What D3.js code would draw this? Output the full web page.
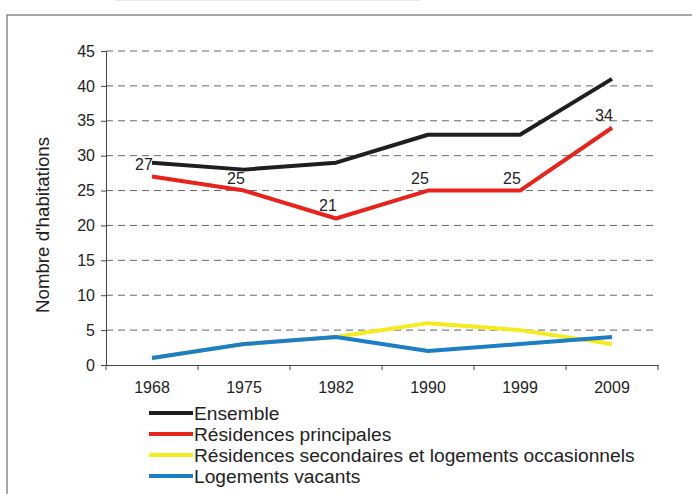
<!DOCTYPE html>
<html><head><meta charset="utf-8">
<script src="https://cdn.jsdelivr.net/npm/d3@7"></script>
<style>body{margin:0;background:#fff}svg{display:block}text{font-family:"Liberation Sans",Arial,sans-serif;fill:#222}</style>
</head><body>
<script>
const years = ["1968","1975","1982","1990","1999","2009"];
const ensemble = [29,28,29,33,33,41];
const principales = [27,25,21,25,25,34];
const secondaires = [1,3,4,6,5,3];
const vacants = [1,3,4,2,3,4];
const yTicks = [0,5,10,15,20,25,30,35,40,45];
const seriesNames = ["Ensemble","Résidences principales","Résidences secondaires et logements occasionnels","Logements vacants"];
const seriesColors = ["#1f1f1f","#e8231b","#f4ec1c","#1c7ec6"];
const yTitle = "Nombre d'habitations";

const W=692,H=494;
const svg=d3.select("body").append("svg").attr("width",W).attr("height",H);
// frame
svg.append("path").attr("d","M7,494 L7,15 L692,15").attr("fill","none").attr("stroke","#8a8a8a").attr("stroke-width",1.5);
svg.append("line").attr("x1",115).attr("x2",420).attr("y1",0.5).attr("y2",0.5).attr("stroke","#e6e6e6").attr("stroke-width",1);

const x=d3.scaleBand().domain(years).range([106,658]);
const y=d3.scaleLinear().domain([0,45]).range([365,51]);

// grid
svg.append("g").selectAll("line").data(yTicks.filter(d=>d>0)).join("line")
  .attr("x1",106).attr("x2",658).attr("y1",d=>y(d)).attr("y2",d=>y(d))
  .attr("stroke","#666").attr("stroke-width",1).attr("stroke-dasharray","7,5");

// y axis
const ya=svg.append("g").attr("transform","translate(106,0)")
  .call(d3.axisLeft(y).tickValues(yTicks).tickSize(5).tickPadding(6));
ya.select(".domain").attr("stroke","#444");
ya.selectAll(".tick line").attr("stroke","#444");
ya.selectAll("text").style("font-size","16px").attr("fill","#222");

// x axis
const xa=svg.append("g").attr("transform","translate(0,365)")
  .call(d3.axisBottom(x).tickSize(0).tickPadding(17));
xa.select(".domain").attr("stroke","#444");
xa.selectAll("text").style("font-size","16px").attr("fill","#222");
svg.append("g").selectAll("line").data(d3.range(years.length+1)).join("line")
  .attr("x1",i=>106+i*x.step()).attr("x2",i=>106+i*x.step())
  .attr("y1",365).attr("y2",370).attr("stroke","#444");

// y title
svg.append("text").attr("transform","translate(49,225) rotate(-90)")
  .attr("text-anchor","middle").style("font-size","18.7px").text(yTitle);

const line=d3.line().x((d,i)=>x(years[i])+x.bandwidth()/2).y(d=>y(d));
const allSeries=[ensemble,principales,secondaires,vacants];
allSeries.forEach((s,k)=>{
  svg.append("path").datum(s).attr("d",line).attr("fill","none")
    .attr("stroke",seriesColors[k]).attr("stroke-width",4).attr("stroke-linejoin","round");
});

// labels for principales
svg.append("g").selectAll("text").data(principales).join("text")
  .attr("x",(d,i)=>x(years[i])+x.bandwidth()/2-8)
  .attr("y",(d,i)=>y(d)-7)
  .attr("text-anchor","middle").style("font-size","16px").text(d=>d);

// legend
const lg=svg.append("g");
seriesNames.forEach((n,k)=>{
  const yy=413+k*21;
  lg.append("line").attr("x1",149).attr("x2",193).attr("y1",yy).attr("y2",yy)
    .attr("stroke",seriesColors[k]).attr("stroke-width",4);
  lg.append("text").attr("x",194).attr("y",yy+7).style("font-size","19.2px").text(n);
});
</script>
</body></html>
